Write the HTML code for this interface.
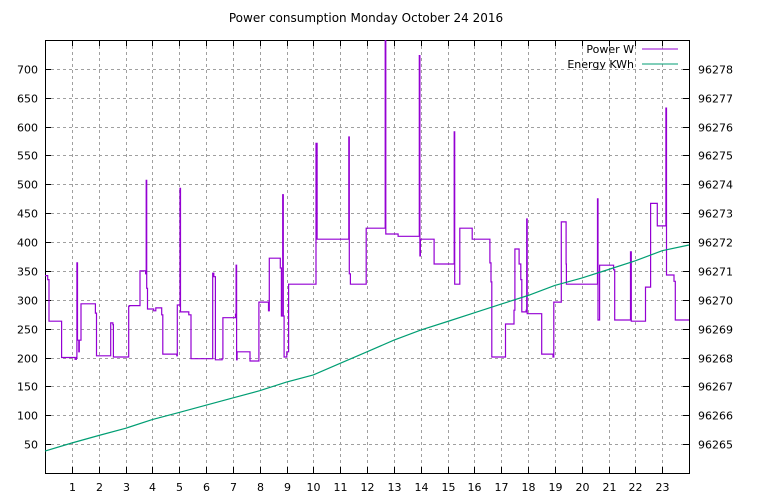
<!DOCTYPE html>
<html><head><meta charset="utf-8"><style>
html,body{margin:0;padding:0;background:#fff;}
svg{display:block;font-family:"DejaVu Sans","Liberation Sans",sans-serif;}
</style></head><body>
<svg id="chart" width="768" height="500" viewBox="0 0 768 500">
<rect x="0" y="0" width="768" height="500" fill="#fff"/>
<text x="366" y="22" text-anchor="middle" font-size="12" fill="#000">Power consumption Monday October 24 2016</text>
<g id="grid"></g>
<g id="axes"></g>
<g id="series"></g>
<g id="legend">
<text x="634" y="53" text-anchor="end" font-size="11">Power W</text>
<line x1="642" y1="49" x2="678" y2="49" stroke="#9400d3" stroke-width="1"/>
<text x="634" y="68" text-anchor="end" font-size="11">Energy KWh</text>
<line x1="642" y1="64" x2="678" y2="64" stroke="#009e73" stroke-width="1"/>
</g>
</svg>
<script>
const xTicks = [1,2,3,4,5,6,7,8,9,10,11,12,13,14,15,16,17,18,19,20,21,22,23];
const yLeftTicks = [50,100,150,200,250,300,350,400,450,500,550,600,650,700];
const yRightTicks = [96265,96266,96267,96268,96269,96270,96271,96272,96273,96274,96275,96276,96277,96278];
const powerT = [0,0.10,0.15,0.62,1.12,1.17,1.19,1.21,1.26,1.28,1.34,1.88,1.92,2.45,2.53,2.55,3.12,3.15,3.54,3.75,3.77,3.79,3.82,4.05,4.13,4.35,4.39,4.91,4.93,5.03,5.05,5.36,5.44,6.25,6.29,6.35,6.60,6.63,7.10,7.12,7.14,7.16,7.64,7.97,8.33,8.36,8.77,8.81,8.86,8.88,8.91,9.01,9.08,10.08,10.10,10.14,11.30,11.32,11.34,11.38,11.97,12.66,12.68,12.70,13.16,13.93,13.95,13.97,13.99,14.50,15.23,15.25,15.27,15.46,15.92,16.55,16.58,16.62,16.65,17.16,17.48,17.51,17.67,17.73,17.77,17.93,17.95,17.97,17.99,18.51,18.93,18.96,19.24,19.42,19.43,20.57,20.59,20.61,20.67,21.19,21.23,21.80,21.82,21.85,22.38,22.57,22.82,23.12,23.14,23.16,23.44,23.49,24.0];
const powerW = [342,335,263,200,197,200,364,230,210,230,293,277,203,260,257,201,289,290,350,345,507,320,284,281,286,274,206,203,291,493,279,274,198,346,340,196,198,269,275,360,196,210,194,296,281,372,355,272,482,272,201,210,327,327,571,405,405,582,345,327,424,424,750,414,410,410,723,376,405,362,362,591,327,424,405,405,364,331,201,258,282,388,362,335,279,282,440,276,276,206,201,296,435,362,327,327,475,265,360,352,265,265,383,263,322,467,428,428,632,343,332,265,265];
const energyT = [0,1,2,3,4,5,6,7,8,9,10,11,12,13,14,15,16,17,18,19,20,21,22,23,24];
const energyK = [96264.76,96265.04,96265.3,96265.55,96265.85,96266.1,96266.35,96266.6,96266.85,96267.15,96267.4,96267.8,96268.2,96268.6,96268.95,96269.25,96269.55,96269.85,96270.15,96270.5,96270.75,96271.05,96271.35,96271.7,96271.9];

const L=45,R=689,T=40,B=473;
const xS = h => L + (h/24)*(R-L);
const yL = w => B - (w/750)*(B-T);
const yR = k => B - ((k-96264)/15)*(B-T);
const NS='http://www.w3.org/2000/svg';
function mk(tag, parent, attrs){const e=document.createElementNS(NS,tag);for(const k in attrs)e.setAttribute(k,attrs[k]);parent.appendChild(e);return e;}
const grid=document.getElementById('grid'), axes=document.getElementById('axes'), series=document.getElementById('series');
const gs={stroke:'#a0a0a0','stroke-width':1,'stroke-dasharray':'3,3'};
xTicks.forEach(h=>{
  const x=Math.round(xS(h))+0.5;
  const g=mk('line',grid,Object.assign({x1:x,y1:T,x2:x,y2:B},gs));
  
  
  const t1=mk('line',axes,{x1:x,y1:B,x2:x,y2:B-6,stroke:'#000'});
  
  
  const t2=mk('line',axes,{x1:x,y1:T,x2:x,y2:T+6,stroke:'#000'});
  
  
  const lb=mk('text',axes,{x:x,y:491,'text-anchor':'middle','font-size':11});
  lb.textContent=h;
  
  
});
yLeftTicks.forEach(w=>{
  const y=Math.round(yL(w))+0.5;
  const g=mk('line',grid,Object.assign({x1:L,y1:y,x2:R,y2:y},gs));
  
  
  const t=mk('line',axes,{x1:L,y1:y,x2:L+6,y2:y,stroke:'#000'});
  
  
  const lb=mk('text',axes,{x:38,y:y+4,'text-anchor':'end','font-size':11});
  lb.textContent=w;
  
  
});
yRightTicks.forEach(k=>{
  const y=Math.round(yR(k))+0.5;
  const t=mk('line',axes,{x1:R,y1:y,x2:R-6,y2:y,stroke:'#000'});
  
  
  const lb=mk('text',axes,{x:698,y:y+4,'text-anchor':'start','font-size':11});
  lb.textContent=k;
  
  
});
const frame=mk('rect',axes,{x:L+0.5,y:T+0.5,width:R-L,height:B-T,fill:'none',stroke:'#000'});



let d='M'+xS(powerT[0]).toFixed(1)+','+yL(powerW[0]).toFixed(1);
for(let i=1;i<powerT.length;i++){
  d+=' H'+xS(powerT[i]).toFixed(1)+' V'+yL(powerW[i]).toFixed(1);
}
const svg=document.getElementById('chart');
const clip=mk('clipPath',svg,{id:'pc'});
mk('rect',clip,{x:L,y:T,width:R-L,height:B-T});
const pl=mk('path',series,{d:d,fill:'none',stroke:'#9400d3','stroke-width':1.2,'clip-path':'url(#pc)'});


let d2='';
energyT.forEach((t,i)=>{d2+=(i?' L':'M')+xS(t).toFixed(1)+','+yR(energyK[i]).toFixed(1);});
const el=mk('path',series,{d:d2,fill:'none',stroke:'#009e73','stroke-width':1.2});


</script>
</body></html>
